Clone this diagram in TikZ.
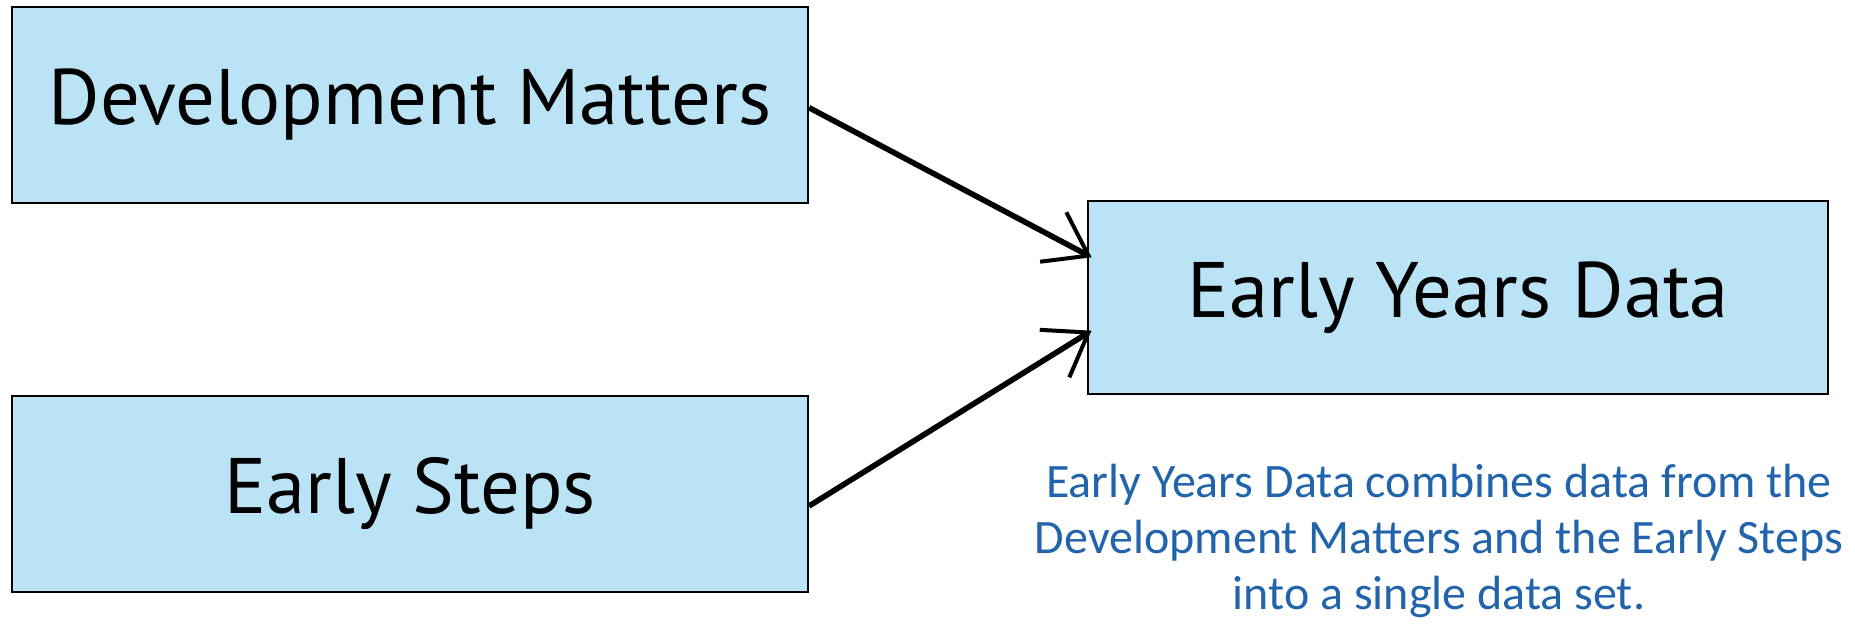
\documentclass[tikz,border=0pt]{standalone}
\usepackage{fontspec}
\usetikzlibrary{arrows.meta}
\newfontfamily\boxfont{PT Sans}
\newfontfamily\notefont{Carlito}
\definecolor{boxblue}{RGB}{186,227,245}
\definecolor{noteblue}{RGB}{34,100,172}
\tikzset{every picture/.style={line width=0.75pt}}
\tikzset{
  databox/.style={draw=black, fill=boxblue, line width=1.6pt, minimum width=597pt, minimum height=146.5pt, inner sep=0pt, font=\boxfont\fontsize{59}{66}\selectfont},
  feed/.style={line width=4.2pt, -{Straight Barb[length=30pt,width=42pt,line width=3pt]}, shorten >=-4pt}
}

\begin{document}
\begin{tikzpicture}[x=0.75pt,y=0.75pt,yscale=-1,xscale=1]
        \useasboundingbox (0,0) rectangle (1855,624); %set diagram to 1855 x 624

        %Shape: Rectangle [id:dm]
        \draw (410,105) node [databox] (dm) {Development Matters};
        %Shape: Rectangle [id:es]
        \draw (410,494) node [databox] (es) {Early Steps};
        %Shape: Rectangle [id:eyd]
        \draw (1458,297.5) node [databox, minimum width=555pt, minimum height=145pt] (eyd) {Early Years Data};

        %Straight Lines [id:feed1]
        \draw [feed] ([yshift=2pt]dm.east) -- ([yshift=-32pt]eyd.west) ;
        %Straight Lines [id:feed2]
        \draw [feed] ([yshift=9pt]es.east) -- ([yshift=27pt]eyd.west) ;

        % Text Node
        \draw (1439,541) node [inner sep=0pt, align=center, text=noteblue, font=\notefont\fontsize{36}{42}\selectfont] (note) {Early Years Data combines data from the\\Development Matters and the Early Steps\\into a single data set.};
\end{tikzpicture}
\end{document}
